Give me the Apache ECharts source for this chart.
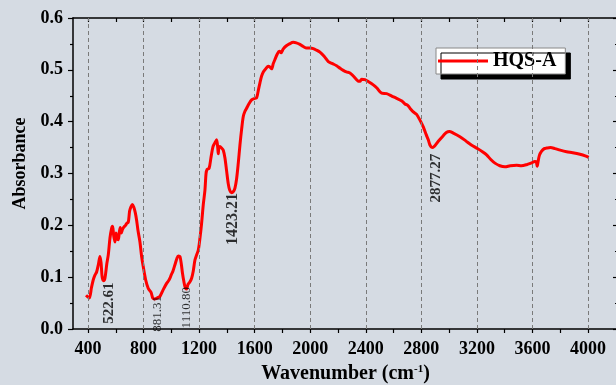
<!DOCTYPE html>
<html>
<head>
<meta charset="utf-8">
<script src="https://cdn.jsdelivr.net/npm/echarts@6/dist/echarts.min.js"></script>
<style>
html,body{margin:0;padding:0;background:#d5dbe3;}
#chart{width:616px;height:385px;}
</style>
</head>
<body>
<div id="chart"></div>
<script>
// Wavenumber (cm-1)
const wavenumber = [386,398,410,425,438,450,462,475,486,494,502,512,522,535,546,558,570,577,585,594,602,610,618,626,632,640,648,659,670,680,690,700,710,720,730,740,750,760,774,786,798,815,834,845,855,866,880,894,905,918,940,966,980,990,1000,1012,1026,1040,1050,1062,1072,1080,1090,1100,1110,1120,1132,1146,1158,1170,1182,1194,1206,1218,1230,1242,1250,1258,1272,1285,1300,1315,1326,1334,1338,1342,1350,1362,1374,1386,1398,1410,1420,1434,1446,1458,1470,1482,1494,1506,1518,1530,1542,1560,1578,1600,1614,1626,1638,1650,1662,1680,1698,1712,1722,1734,1746,1762,1777,1790,1805,1826,1850,1878,1900,1926,1950,1974,2000,2022,2045,2070,2100,2130,2160,2190,2215,2238,2260,2286,2310,2334,2346,2358,2370,2394,2420,2454,2480,2514,2550,2590,2622,2660,2682,2700,2718,2742,2766,2790,2814,2835,2850,2862,2877,2895,2910,2935,2958,2980,3002,3030,3078,3120,3160,3198,3240,3270,3300,3330,3365,3402,3440,3486,3520,3558,3590,3618,3628,3634,3640,3650,3666,3685,3702,3730,3762,3800,3846,3890,3942,3980,4005];
// Absorbance
const absorbance = [0.065,0.062,0.060,0.080,0.095,0.104,0.110,0.125,0.140,0.128,0.100,0.093,0.098,0.125,0.143,0.175,0.194,0.198,0.180,0.168,0.185,0.175,0.172,0.188,0.196,0.185,0.192,0.197,0.200,0.204,0.206,0.228,0.236,0.240,0.235,0.225,0.210,0.190,0.168,0.140,0.120,0.095,0.078,0.074,0.070,0.060,0.058,0.059,0.061,0.063,0.075,0.088,0.093,0.098,0.105,0.112,0.124,0.136,0.141,0.140,0.125,0.108,0.092,0.080,0.077,0.086,0.090,0.098,0.112,0.133,0.143,0.152,0.175,0.204,0.240,0.268,0.300,0.308,0.310,0.330,0.352,0.360,0.365,0.350,0.338,0.350,0.352,0.349,0.345,0.330,0.305,0.280,0.268,0.263,0.265,0.272,0.290,0.320,0.355,0.385,0.410,0.420,0.426,0.435,0.442,0.445,0.446,0.460,0.475,0.488,0.496,0.502,0.507,0.505,0.502,0.512,0.520,0.530,0.536,0.533,0.540,0.546,0.550,0.553,0.552,0.549,0.545,0.542,0.542,0.541,0.538,0.534,0.526,0.516,0.512,0.508,0.503,0.499,0.496,0.494,0.488,0.481,0.478,0.478,0.482,0.481,0.477,0.471,0.465,0.455,0.454,0.449,0.445,0.440,0.434,0.432,0.426,0.419,0.414,0.403,0.390,0.375,0.365,0.355,0.350,0.353,0.358,0.366,0.373,0.379,0.381,0.378,0.371,0.363,0.355,0.349,0.342,0.336,0.327,0.320,0.315,0.313,0.315,0.316,0.315,0.317,0.320,0.323,0.322,0.314,0.322,0.335,0.343,0.348,0.349,0.350,0.348,0.345,0.342,0.340,0.337,0.334,0.331];

const seriesName = 'HQS-A';
const xTickLabels = [400,800,1200,1600,2000,2400,2800,3200,3600,4000];
const xMinorTicks = [400,600,800,1000,1200,1400,1600,1800,2000,2200,2400,2600,2800,3000,3200,3400,3600,3800,4000];

// Peak annotations (text, wavenumber/absorbance anchor of the text centre)
const peakLabels = ['522.61','881.31','1110.80','1423.21','2877.27'];
const peakLabelX = [551, 904, 1113, 1444, 2905];
const peakLabelY = [0.050, 0.029, 0.041, 0.212, 0.291];
const peakLabelSize = [15, 13, 13, 16, 15];
const peakLabelWeight = ['bold','normal','normal','bold','bold'];

const serif = '"Liberation Serif","Times New Roman",serif';

const curve = wavenumber.map((x, i) => [x, absorbance[i]]);
const peaks = peakLabels.map((t, i) => ({
  value: [peakLabelX[i], peakLabelY[i]],
  name: t,
  label: { fontSize: peakLabelSize[i], fontWeight: peakLabelWeight[i] }
}));

const chart = echarts.init(document.getElementById('chart'), null, {renderer: 'canvas'});

const baseX = {
  type: 'value', min: 292, max: 4216, gridIndex: 0,
  axisLine: { show: true, onZero: false, lineStyle: { color: '#000', width: 1.5 } },
  splitLine: { show: false }
};
const baseY = {
  type: 'value', min: 0, max: 0.6, interval: 0.1,
  axisLine: { show: true, lineStyle: { color: '#000', width: 1.5 } },
  splitLine: { show: false },
  minorTick: { show: true, splitNumber: 2, length: 3, lineStyle: { color: '#000', width: 1.2 } }
};

chart.setOption({
  backgroundColor: '#d5dbe3',
  animation: false,
  grid: { left: 73, top: 18, width: 545, bottom: 56, containLabel: false, outerBoundsMode: 'none' },
  legend: {
    data: [{ name: seriesName, icon: 'rect' }],
    left: 436, top: 48,
    padding: [3, 9, 3, 2],
    itemWidth: 50, itemHeight: 3, itemGap: 0,
    backgroundColor: '#ffffff',
    borderColor: '#888', borderWidth: 1,
    shadowColor: '#000', shadowBlur: 0, shadowOffsetX: 5, shadowOffsetY: 5,
    textStyle: { fontFamily: serif, fontWeight: 'bold', fontSize: 20, color: '#000' }
  },
  xAxis: [
    Object.assign({}, baseX, {
      position: 'bottom',
      name: 'Wavenumber (cm{sup|-1})',
      nameLocation: 'middle', nameGap: 35,
      nameTextStyle: {
        fontFamily: serif, fontWeight: 'bold', fontSize: 20, color: '#000',
        rich: { sup: { fontFamily: serif, fontWeight: 'bold', fontSize: 11, color: '#000', verticalAlign: 'top', padding: [0, 0, 8, 0] } }
      },
      axisTick: { show: true, inside: false, length: 4, customValues: xMinorTicks, lineStyle: { color: '#000', width: 1.2 } },
      axisLabel: { show: true, customValues: xTickLabels, margin: 11, fontFamily: serif, fontWeight: 'bold', fontSize: 18, color: '#000',
        formatter: v => String(v) }
    }),
    Object.assign({}, baseX, {
      position: 'top',
      axisTick: { show: true, inside: true, length: 4, customValues: xMinorTicks, lineStyle: { color: '#000', width: 1.2 } },
      axisLabel: { show: false }
    })
  ],
  yAxis: [
    Object.assign({}, baseY, {
      position: 'left',
      name: 'Absorbance', nameLocation: 'middle', nameGap: 44,
      nameTextStyle: { fontFamily: serif, fontWeight: 'bold', fontSize: 18, color: '#000', padding: [0, 0, 0, 20] },
      axisTick: { show: true, inside: false, length: 5, lineStyle: { color: '#000', width: 1.2 } },
      axisLabel: { show: true, margin: 10, fontFamily: serif, fontWeight: 'bold', fontSize: 18, color: '#000',
        formatter: v => v.toFixed(1) }
    }),
    Object.assign({}, baseY, {
      position: 'right',
      axisTick: { show: true, inside: true, length: 5, lineStyle: { color: '#000', width: 1.2 } },
      minorTick: { show: true, splitNumber: 2, length: 3, lineStyle: { color: '#000', width: 1.2 } },
      axisLabel: { show: false }
    })
  ],
  series: [
    {
      name: 'gridlines', type: 'line', data: [], z: 1, silent: true,
      markLine: {
        silent: true, symbol: ['none', 'none'], label: { show: false },
        lineStyle: { color: '#7a7a7a', type: [4, 3], width: 1 },
        data: xTickLabels.map(v => ({ xAxis: v }))
      }
    },
    {
      name: seriesName, type: 'line', data: curve, z: 3,
      symbol: 'none', smooth: 0.3,
      lineStyle: { color: '#ff0000', width: 3 },
      itemStyle: { color: '#ff0000' }
    },
    {
      name: 'peaks', type: 'scatter', data: peaks, z: 4,
      symbolSize: 0, silent: true,
      label: {
        show: true, position: 'inside', rotate: 90,
        formatter: p => p.name,
        fontFamily: serif, color: '#000'
      }
    }
  ]
});
</script>
</body>
</html>
